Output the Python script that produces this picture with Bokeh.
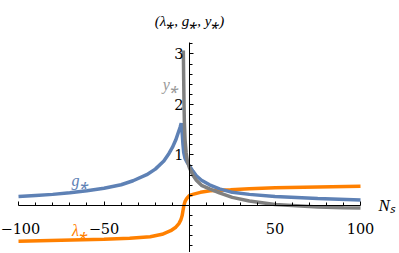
from bokeh.plotting import figure
from bokeh.models import Range1d, FixedTicker, Label
from bokeh.embed import file_html
from bokeh.resources import INLINE

# lambda_* (orange)
lam_ns = [-100, -75, -50, -35, -23, -16, -11, -8, -6.2, -5, -4.3, -3.8, -3.3, -2.6, -1.75, -0.8, 0, 3, 6.4, 12, 24, 35, 50, 75, 100]
lam_val = [-0.71, -0.69, -0.67, -0.65, -0.62, -0.57, -0.50, -0.43, -0.36, -0.28, -0.20, -0.10, 0.0, 0.08, 0.13, 0.17, 0.20, 0.23, 0.26, 0.29, 0.31, 0.33, 0.35, 0.365, 0.38]

# g_* (blue)
g_ns = [-100, -90, -80, -70, -60, -50, -40, -33, -25, -20, -15, -12, -10, -8, -6.5, -5.5, -4.85,
        -4.2, -3.8, -3.4, -2.6, -1.3, 0, 2, 4, 7, 11.7, 17.5, 25, 35, 50, 75, 100]
g_val = [0.18, 0.20, 0.22, 0.25, 0.29, 0.34, 0.41, 0.49, 0.61, 0.72, 0.88, 1.03, 1.15, 1.30, 1.45, 1.55, 1.63,
         1.40, 1.20, 1.05, 0.93, 0.85, 0.78, 0.68, 0.59, 0.50, 0.41, 0.33, 0.26, 0.22, 0.18, 0.14, 0.11]

# y_* (gray)
y_ns = [-3.6, -3.4, -3.2, -3.0, -2.6, -2.0, -1.3, 0, 2, 4, 7, 11.7, 17.5, 25, 35, 50, 60, 75, 90, 100]
y_val = [3.07, 2.5, 2.0, 1.65, 1.3, 1.05, 0.89, 0.74, 0.6, 0.5, 0.40, 0.33, 0.25, 0.16, 0.09, 0.02, 0.0, -0.03, -0.045, -0.05]

x_ticks = [-100, -50, 50, 100]
x_minor = [-90, -80, -70, -60, -40, -30, -20, -10, 10, 20, 30, 40, 60, 70, 80, 90]
x_tick_labels = {-100: "\u2212100", -50: "\u221250", 50: "50", 100: "100"}
y_ticks = [1, 2, 3]
y_minor = [-0.8, -0.6, -0.4, -0.2, 0.2, 0.4, 0.6, 0.8, 1.2, 1.4, 1.6, 1.8, 2.2, 2.4, 2.6, 2.8, 3.2]

BLUE = "#5E81B5"
ORANGE = "#FF8000"
GRAY = "#808080"
SERIF = "DejaVu Serif"
ISERIF = "Liberation Serif"

p = figure(width=398, height=252, output_backend="svg", toolbar_location=None,
           x_range=Range1d(-110.53, 122.22), y_range=Range1d(-0.931, 4.059),
           min_border_left=0, min_border_right=0, min_border_top=0, min_border_bottom=0)
p.outline_line_color = None
p.grid.visible = False
p.background_fill_color = "white"

p.line(lam_ns, lam_val, line_color=ORANGE, line_width=3.5)
p.line(g_ns, g_val, line_color=BLUE, line_width=3.5)
p.line(y_ns, y_val, line_color=GRAY, line_width=3.5)

for ax in (p.xaxis[0], p.yaxis[0]):
    ax.fixed_location = 0
    ax.axis_line_color = "black"
    ax.major_tick_in = 4
    ax.major_tick_out = 0
    ax.minor_tick_in = 3
    ax.minor_tick_out = 0
    ax.major_label_text_font = SERIF
    ax.major_label_text_font_size = "14.5px"
    ax.major_label_text_color = "black"

p.xaxis[0].bounds = (-100, 100)
p.yaxis[0].bounds = (-0.93, 3.23)
p.xaxis[0].ticker = FixedTicker(ticks=x_ticks, minor_ticks=x_minor)
p.xaxis[0].major_label_overrides = x_tick_labels
p.xaxis[0].major_label_standoff = 18
p.yaxis[0].ticker = FixedTicker(ticks=y_ticks, minor_ticks=y_minor)
p.yaxis[0].major_label_standoff = 6

p.add_layout(Label(x=-64, y=0.28, text="g\u204e", text_color=BLUE, text_font=ISERIF,
                   text_font_style="italic", text_font_size="16px", text_align="center",
                   text_baseline="bottom", y_offset=2))
p.add_layout(Label(x=-64, y=-0.5, text="\u03bb\u204e", text_color=ORANGE, text_font=ISERIF,
                   text_font_style="italic", text_font_size="16px", text_align="center",
                   text_baseline="middle"))
p.add_layout(Label(x=-11, y=2.4, text="y\u204e", text_color="#999999", text_font=ISERIF,
                   text_font_style="italic", text_font_size="16px", text_align="center",
                   text_baseline="middle"))
p.add_layout(Label(x=100, y=0, text="N\u209b", text_color="black", text_font=ISERIF,
                   text_font_style="italic", text_font_size="17px", text_align="left",
                   text_baseline="middle", x_offset=18))
p.add_layout(Label(x=0, y=3.23, text="(\u03bb\u204e, g\u204e, y\u204e)", text_color="black", text_font=ISERIF,
                   text_font_style="italic", text_font_size="15px", text_align="center",
                   text_baseline="middle", y_offset=21))

open("out.html", "w").write(file_html(p, INLINE))
